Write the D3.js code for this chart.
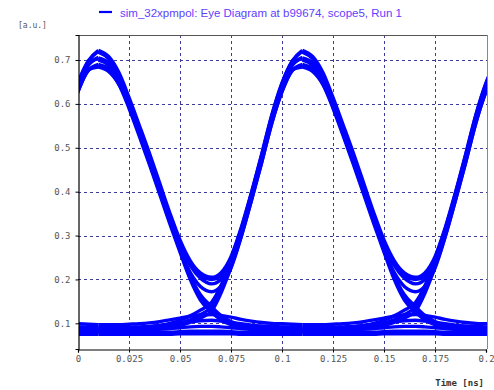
<!DOCTYPE html>
<html><head><meta charset="utf-8">
<script src="https://cdn.jsdelivr.net/npm/d3@7"></script>
<style>body{margin:0;background:#fff}svg{display:block}</style>
</head><body>
<script>
// ---- data ----
const titleText = "sim_32xpmpol: Eye Diagram at b99674, scope5, Run 1";
const xTicks = [0, 0.025, 0.05, 0.075, 0.1, 0.125, 0.15, 0.175, 0.2];
const xTickLabels = ["0", "0.025", "0.05", "0.075", "0.1", "0.125", "0.15", "0.175", "0.2"];
const yTicks = [0.1, 0.2, 0.3, 0.4, 0.5, 0.6, 0.7];
const yTickLabels = ["0.1", "0.2", "0.3", "0.4", "0.5", "0.6", "0.7"];
// unit-interval windows overlaid in the eye (start offsets, ns)
const uiOffsets = [-0.1, 0, 0.1];
// sample times within one window (ns)
const times = [0.010, 0.015, 0.020, 0.025, 0.030, 0.035, 0.040, 0.045, 0.050, 0.055, 0.060, 0.0655, 0.070, 0.075, 0.080, 0.085, 0.090, 0.095, 0.100, 0.105, 0.110];
// 1 -> 1 transitions
const hh1 = [.722,.708,.672,.615,.552,.488,.420,.352,.290,.243,.215,.205,.215,.252,.318,.398,.485,.575,.648,.698,.722];
const hh2 = [.705,.694,.660,.604,.541,.477,.410,.343,.280,.232,.203,.190,.200,.240,.308,.389,.476,.566,.638,.688,.706];
const hh3 = [.690,.680,.648,.594,.531,.466,.399,.332,.268,.216,.184,.172,.184,.226,.297,.380,.466,.556,.628,.676,.690];
const hh4 = [.684,.674,.645,.596,.536,.472,.405,.340,.280,.235,.208,.200,.208,.245,.312,.392,.478,.566,.636,.678,.684];
// 1 -> 0 transitions
const hl1 = [.718,.703,.666,.608,.544,.478,.410,.342,.275,.210,.165,.138,.118,.104,.096,.092,.090,.089,.088,.088,.088];
const hl2 = [.700,.688,.654,.598,.535,.470,.403,.335,.268,.205,.158,.130,.112,.100,.093,.089,.087,.086,.085,.085,.085];
const hl3 = [.686,.676,.645,.590,.527,.462,.395,.327,.262,.200,.153,.125,.108,.097,.090,.086,.084,.083,.082,.082,.082];
// 0 -> 1 transitions
const lh1 = [.090,.089,.089,.089,.090,.092,.095,.100,.107,.117,.130,.148,.185,.245,.315,.396,.483,.573,.646,.696,.720];
const lh2 = [.086,.085,.085,.085,.086,.088,.090,.094,.100,.108,.120,.138,.178,.238,.308,.390,.476,.566,.638,.688,.704];
const lh3 = [.083,.082,.082,.082,.083,.085,.087,.090,.095,.102,.112,.128,.168,.228,.298,.380,.466,.556,.628,.676,.688];
// 0 -> 0 transitions
const ll1 = [.097,.097,.097,.098,.099,.101,.104,.108,.112,.116,.119,.120,.118,.114,.109,.105,.102,.100,.099,.098,.097];
const ll2 = [.091,.091,.091,.091,.092,.093,.095,.098,.101,.104,.106,.107,.105,.102,.099,.096,.094,.093,.092,.091,.091];
const ll3 = [.085,.085,.085,.085,.085,.086,.087,.088,.090,.092,.093,.093,.092,.090,.088,.087,.086,.085,.085,.085,.085];
const ll4 = [.079,.079,.079,.079,.079,.079,.080,.080,.081,.082,.082,.082,.082,.081,.080,.080,.079,.079,.079,.079,.079];
const ll5 = [.075,.075,.075,.075,.075,.075,.075,.075,.076,.076,.076,.076,.076,.076,.075,.075,.075,.075,.075,.075,.075];
const traces = [hh1, hh2, hh3, hh4, hl1, hl2, hl3, lh1, lh2, lh3, ll1, ll2, ll3, ll4, ll5];

// ---- layout ----
const W = 494, H = 390;
const L = 78, R = 487, T = 35, B = 349;
const svg = d3.select("body").append("svg").attr("width", W).attr("height", H);
const x = d3.scaleLinear().domain([0, 0.2]).range([L, 486]);
const y = d3.scaleLinear().domain([0.0415, 0.757]).range([B, T]);

svg.append("defs").append("clipPath").attr("id", "clip")
  .append("rect").attr("x", L + 1).attr("y", T).attr("width", R - L - 1).attr("height", B - T);

// grid
const grid = svg.append("g").attr("shape-rendering", "crispEdges")
  .attr("stroke", "#3c3c96").attr("stroke-dasharray", "3,3").attr("stroke-width", 1);
grid.selectAll("line.h").data(yTicks).join("line").attr("class", "h")
  .attr("x1", L).attr("x2", R).attr("y1", d => Math.round(y(d)) + 0.5).attr("y2", d => Math.round(y(d)) + 0.5);
grid.selectAll("line.v").data(xTicks.slice(1, -1)).join("line").attr("class", "v")
  .attr("y1", T).attr("y2", B).attr("x1", d => Math.round(x(d)) + 0.5).attr("x2", d => Math.round(x(d)) + 0.5);

// traces
const line = d3.line().x(d => x(d[0])).y(d => y(d[1])).curve(d3.curveMonotoneX);
const tg = svg.append("g").attr("clip-path", "url(#clip)");
uiOffsets.forEach(off => {
  traces.forEach(tr => {
    tg.append("path").datum(times.map((t, i) => [t + off, tr[i]]))
      .attr("d", line).attr("fill", "none").attr("stroke", "#0000ff")
      .attr("stroke-width", 3.4).attr("stroke-linejoin", "round");
  });
});

// frame
svg.append("line").attr("x1", L).attr("x2", R).attr("y1", T + 0.5).attr("y2", T + 0.5)
  .attr("stroke", "#555").attr("shape-rendering", "crispEdges");
svg.append("line").attr("x1", R + 0.5).attr("x2", R + 0.5).attr("y1", T).attr("y2", B)
  .attr("stroke", "#888").attr("shape-rendering", "crispEdges");

// axes
const fontMono = "'DejaVu Sans Mono', 'Liberation Mono', monospace";
const xAxis = svg.append("g").attr("transform", `translate(0,${B + 0.5})`)
  .call(d3.axisBottom(x).tickValues(xTicks).tickFormat((d, i) => xTickLabels[i]).tickSize(3).tickPadding(3));
const yAxis = svg.append("g").attr("transform", `translate(${L + 0.5},0)`)
  .call(d3.axisLeft(y).tickValues(yTicks).tickFormat((d, i) => yTickLabels[i]).tickSize(3).tickPadding(5));
[xAxis, yAxis].forEach(a => {
  a.select(".domain").attr("stroke", "#000").attr("stroke-width", 1.2);
  a.selectAll(".tick line").attr("stroke", "#000");
  a.selectAll(".tick text").attr("fill", "#555").style("font-family", fontMono).style("font-size", "9px");
});

// labels
svg.append("text").attr("x", 18).attr("y", 28).text("[a.u.]")
  .attr("fill", "#555").style("font-family", fontMono).style("font-size", "8px");
svg.append("text").attr("x", 484).attr("y", 386).attr("text-anchor", "end").text("Time [ns]")
  .attr("fill", "#333").style("font-family", fontMono).style("font-size", "9px").style("font-weight", "bold");

// legend / title
svg.append("line").attr("x1", 99).attr("x2", 112).attr("y1", 12).attr("y2", 12)
  .attr("stroke", "#0000ff").attr("stroke-width", 2.2);
svg.append("text").attr("x", 120).attr("y", 17).text(titleText)
  .attr("fill", "#6040ff").style("font-family", "'Liberation Sans', Arial, sans-serif").style("font-size", "11.5px");
</script>
</body></html>
